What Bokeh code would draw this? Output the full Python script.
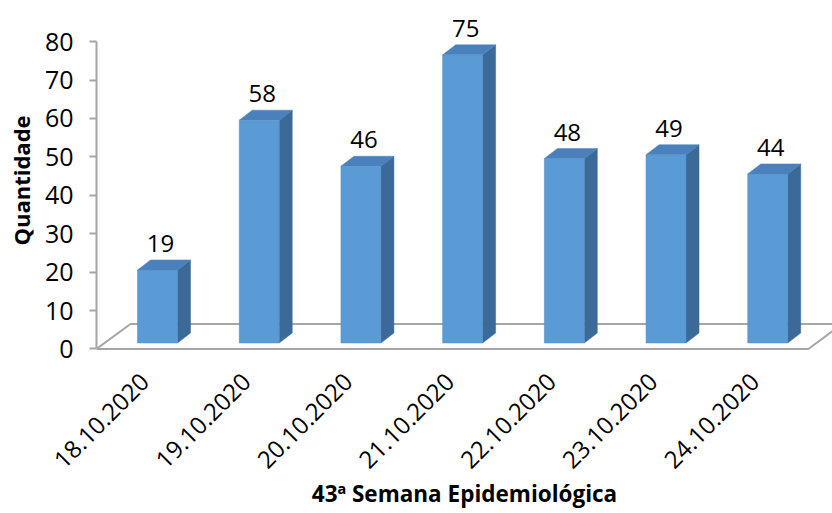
import math
from bokeh.plotting import figure
from bokeh.models import Range1d, FixedTicker, ColumnDataSource
from bokeh.core.properties import value
from bokeh.embed import file_html
from bokeh.resources import INLINE

# ---- data ----
dates = ["18.10.2020", "19.10.2020", "20.10.2020", "21.10.2020",
         "22.10.2020", "23.10.2020", "24.10.2020"]
counts = [19, 58, 46, 75, 48, 49, 44]
y_ticks = [0, 10, 20, 30, 40, 50, 60, 70, 80]
x_title = "43ª Semana Epidemiológica"
y_title = "Quantidade"

# ---- layout / style constants ----
FONT = "Open Sans"
BAR_W = 0.393        # front face width (category units)
DX, DY = 0.128, 2.6  # 3D depth offset of bars
BASE = 1.56          # bar front bottom above floor front edge
FLOOR_DX, FLOOR_DY = 0.334, 6.5
X_START, X_END = -0.6, 6.637
FLOOR_RIGHT = 6.40
Y_START, Y_END = -0.4, 88.1
LABEL_SHIFT = -0.125  # slant labels sit a little left of bar centres

FRONT = "#5b9bd5"
SIDE = "#3c6a98"
TOP = "#4a80bb"
GREY = "#a6a6a6"

p = figure(width=832, height=513, output_backend="svg", toolbar_location=None,
           x_range=Range1d(X_START, X_END), y_range=Range1d(Y_START, Y_END),
           min_border_left=96, min_border_right=0, min_border_top=10,
           min_border_bottom=163)
p.outline_line_color = None
p.xgrid.visible = False
p.ygrid.visible = False
p.background_fill_color = "white"
p.border_fill_color = "white"

# floor
fx = [X_START, X_START + FLOOR_DX, FLOOR_RIGHT + FLOOR_DX, FLOOR_RIGHT]
fy = [0, FLOOR_DY, FLOOR_DY, 0]
p.patch(fx, fy, fill_color="white", line_color=GREY, line_width=2)

# bars
idx = list(range(len(counts)))
front = ColumnDataSource(dict(
    left=[i - BAR_W / 2 for i in idx], right=[i + BAR_W / 2 for i in idx],
    bottom=[BASE] * len(idx), top=[BASE + v for v in counts]))
side_xs, side_ys, top_xs, top_ys = [], [], [], []
for i, v in zip(idx, counts):
    r = i + BAR_W / 2
    l = i - BAR_W / 2
    t = BASE + v
    side_xs.append([r, r + DX, r + DX, r])
    side_ys.append([BASE, BASE + DY, t + DY, t])
    top_xs.append([l, r, r + DX, l + DX])
    top_ys.append([t, t, t + DY, t + DY])

p.patches(side_xs, side_ys, fill_color=SIDE, line_color=SIDE, line_width=0.5)
p.patches(top_xs, top_ys, fill_color=TOP, line_color=TOP, line_width=0.5)
p.quad(left="left", right="right", bottom="bottom", top="top", source=front,
       fill_color=FRONT, line_color="#4f8dc6", line_width=0.5)

# value labels
lab = ColumnDataSource(dict(x=[i + 0.03 for i in idx],
                            y=[BASE + v + DY for v in counts],
                            t=[str(v) for v in counts]))
p.text(x="x", y="y", text="t", source=lab, text_align="center",
       text_baseline="bottom", y_offset=-8, text_font=value(FONT),
       text_font_size="24px", text_color="#000000")

# y axis
ya = p.yaxis[0]
ya.ticker = FixedTicker(ticks=y_ticks)
ya.bounds = (0, 80)
ya.axis_line_color = GREY
ya.axis_line_width = 2
ya.major_tick_line_color = GREY
ya.major_tick_line_width = 2
ya.major_tick_out = 7
ya.major_tick_in = 0
ya.minor_tick_line_color = None
ya.major_label_standoff = 16
ya.major_label_text_font = FONT
ya.major_label_text_font_size = "25px"
ya.major_label_text_color = "#000000"
ya.axis_label = y_title
ya.axis_label_text_font = FONT
ya.axis_label_text_font_size = "22px"
ya.axis_label_text_font_style = "bold"
ya.axis_label_text_color = "#000000"
ya.axis_label_standoff = 6

# x axis
xa = p.xaxis[0]
tick_pos = [i + LABEL_SHIFT for i in idx]
xa.ticker = FixedTicker(ticks=tick_pos)
xa.major_label_overrides = {t: d for t, d in zip(tick_pos, dates)}
xa.major_label_orientation = math.pi / 4
xa.axis_line_color = None
xa.major_tick_line_color = None
xa.minor_tick_line_color = None
xa.major_tick_out = 0
xa.major_tick_in = 0
xa.major_label_standoff = 27
xa.major_label_text_font = FONT
xa.major_label_text_font_size = "24px"
xa.major_label_text_color = "#000000"
xa.axis_label = x_title
xa.axis_label_text_font = FONT
xa.axis_label_text_font_size = "22.5px"
xa.axis_label_text_font_style = "bold"
xa.axis_label_text_color = "#000000"
xa.axis_label_standoff = -1

open("out.html", "w").write(file_html(p, INLINE))
